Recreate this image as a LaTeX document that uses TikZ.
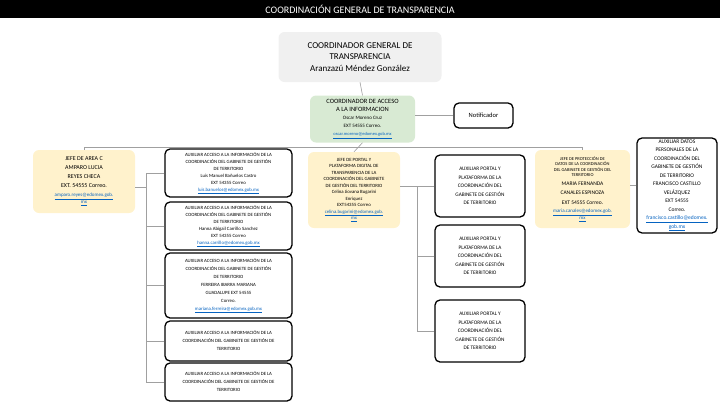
\documentclass[tikz,border=0pt]{standalone}
\usepackage{fontspec}
\setmainfont{Carlito}
\usetikzlibrary{positioning}
\definecolor{gengray}{HTML}{F0F0F0}
\definecolor{accgreen}{HTML}{D8EAD3}
\definecolor{jefebeige}{HTML}{FFF2CC}
\definecolor{linkgray}{HTML}{A0A0A0}
\definecolor{maillink}{HTML}{0563C1}
\newcommand{\mailto}[1]{\textcolor{maillink}{\underline{#1}}}

\begin{document}
\begin{tikzpicture}[x=1pt, y=-1pt,
    every node/.style={align=center, inner sep=1pt},
    filled/.style={rounded corners=6pt, fill=#1},
    outlined/.style={rounded corners=5pt, draw=black, line width=1.3pt, fill=white},
    link/.style={draw=linkgray, line width=0.6pt}]
\useasboundingbox (0,0) rectangle (720,405);
\fill[black] (0,0) rectangle (720,18);
\node[white, font=\fontsize{10}{12}\selectfont] (ttl) at (360,9) {COORDINACIÓN GENERAL DE TRANSPARENCIA};

\node[filled=gengray, minimum width=163pt, minimum height=50pt, font=\fontsize{9}{11.5}\selectfont] (gen) at (360,57)
    {COORDINADOR GENERAL DE\\TRANSPARENCIA\\Aranzazú Méndez González};
\node[filled=accgreen, minimum width=105pt, minimum height=47pt, font=\fontsize{6.5}{8}\selectfont] (acc) at (362.5,119)
    {COORDINADOR DE ACCESO\\A LA INFORMACION\\{\fontsize{5}{8}\selectfont Oscar Moreno Cruz}\\{\fontsize{5}{8}\selectfont EXT 54555 Correo.}\\{\fontsize{4.5}{8}\selectfont\mailto{oscar.moreno@edomex.gob.mx}}};
\node[outlined, minimum width=59pt, minimum height=25pt, font=\fontsize{6.5}{8}\selectfont] (notif) at (483.5,115.5) {Notificador};

\node[filled=jefebeige, minimum width=102pt, minimum height=63pt, font=\fontsize{6}{9}\selectfont] (areac) at (84,181.5)
    {JEFE DE AREA C\\AMPARO LUCIA\\REYES CHECA\\EXT. 54555 Correo.\\{\fontsize{5}{6}\selectfont\mailto{amparo.reyes@edomex.gob.}}\\[-2pt]{\fontsize{5}{6}\selectfont\mailto{mx}}};

\node[outlined, minimum width=127pt, minimum height=48pt, font=\fontsize{4.8}{7}\selectfont] (aux1) at (228.5,173)
    {AUXILIAR ACCESO A LA INFORMACIÓN DE LA\\COORDINACIÓN DEL GABINETE DE GESTIÓN\\DE TERRITORIO\\Luis Manuel Bañuelos Castro\\EXT 54355 Correo\\\mailto{luis.banuelos@edomex.gob.mx}};
\node[outlined, minimum width=127pt, minimum height=48pt, font=\fontsize{4.8}{7}\selectfont] (aux2) at (228.5,226)
    {AUXILIAR ACCESO A LA INFORMACIÓN DE LA\\COORDINACIÓN DEL GABINETE DE GESTIÓN\\DE TERRITORIO\\Hanna Abigail Carrillo Sanchez\\EXT 54355 Correo\\\mailto{hanna.carrillo@edomex.gob.mx}};
\node[outlined, minimum width=127pt, minimum height=65pt, font=\fontsize{4.8}{8}\selectfont] (aux3) at (228.5,285.5)
    {AUXILIAR ACCESO A LA INFORMACIÓN DE LA\\COORDINACIÓN DEL GABINETE DE GESTIÓN\\DE TERRITORIO\\FERREIRA IBARRA MARIANA\\GUADALUPE EXT 54555\\Correo.\\\mailto{mariana.ferreira@edomex.gob.mx}};
\node[outlined, minimum width=127pt, minimum height=40pt, font=\fontsize{4.8}{8}\selectfont] (aux4) at (228.5,341)
    {AUXILIAR ACCESO A LA INFORMACIÓN DE LA\\COORDINACIÓN DEL GABINETE DE GESTIÓN DE\\TERRITORIO};
\node[outlined, minimum width=127pt, minimum height=38pt, font=\fontsize{4.8}{8}\selectfont] (aux5) at (228.5,382)
    {AUXILIAR ACCESO A LA INFORMACIÓN DE LA\\COORDINACIÓN DEL GABINETE DE GESTIÓN DE\\TERRITORIO};

\node[filled=jefebeige, minimum width=92pt, minimum height=76pt, font=\fontsize{4.8}{6.5}\selectfont] (portal) at (354,190)
    {JEFE DE PORTAL Y\\PLATAFORMA DIGITAL DE\\TRANSPARENCIA DE LA\\COORDINACIÓN DEL GABINETE\\DE GESTIÓN DEL TERRITORIO\\Celina Jiovana Bugarini\\Enriquez\\EXT54355 Correo\\{\mailto{celina.bugarini@edomex.gob.}}\\\mailto{mx}};
\node[outlined, minimum width=90pt, minimum height=62pt, font=\fontsize{5.3}{8.5}\selectfont] (ptl1) at (480,186)
    {AUXILIAR PORTAL Y\\PLATAFORMA DE LA\\COORDINACIÓN DEL\\GABINETE DE GESTIÓN\\DE TERRITORIO};
\node[outlined, minimum width=90pt, minimum height=62pt, font=\fontsize{5.3}{8.5}\selectfont] (ptl2) at (480,256)
    {AUXILIAR PORTAL Y\\PLATAFORMA DE LA\\COORDINACIÓN DEL\\GABINETE DE GESTIÓN\\DE TERRITORIO};
\node[outlined, minimum width=90pt, minimum height=62pt, font=\fontsize{5.3}{8.5}\selectfont] (ptl3) at (480,331)
    {AUXILIAR PORTAL Y\\PLATAFORMA DE LA\\COORDINACIÓN DEL\\GABINETE DE GESTIÓN\\DE TERRITORIO};

\node[filled=jefebeige, minimum width=95pt, minimum height=78pt, font=\fontsize{4.5}{5.5}\selectfont] (datos) at (582.5,189)
    {JEFE DE PROTECCIÓN DE\\DATOS DE LA COORDINACIÓN\\DEL GABINETE DE GESTIÓN DEL\\TERRITORIO\\[3pt]
     {\fontsize{5.5}{9}\selectfont MARIA FERNANDA}\\[4pt]{\fontsize{5.5}{9}\selectfont CANALES ESPINOZA}\\[4pt]{\fontsize{5.5}{9}\selectfont EXT 54555 Correo.}\\[3pt]
     {\fontsize{5}{7}\selectfont\mailto{maria.canales@edomex.gob.}}\\[1pt]{\fontsize{5}{7}\selectfont\mailto{mx}}};
\node[outlined, minimum width=80pt, minimum height=95pt, font=\fontsize{5.5}{8.5}\selectfont] (auxdp) at (677,185.5)
    {AUXILIAR DATOS\\PERSONALES DE LA\\COORDINACIÓN DEL\\GABINETE DE GESTIÓN\\DE TERRITORIO\\FRANCISCO CASTILLO\\VELÁZQUEZ\\EXT 54555\\Correo.\\\mailto{francisco.castillo@edomex.}\\\mailto{gob.mx}};

% lines
\draw[link] (gen.south) -- (acc.north);
\draw[link] (acc.east |- notif.west) -- (notif.west);
\draw[link] (acc.south) -- (portal.north);
\draw[link] (areac.north) -- ++(0,-3) -| (datos.north);
\draw[link] ([yshift=-5.5pt]areac.east) -- ++(12,0);
\draw[link] (aux1.west) -- ++(-18,0) |- (aux5.west);
\draw[link] (aux2.west) -- ++(-18,0);
\draw[link] (aux3.west) -- ++(-18,0);
\draw[link] (aux4.west) -- ++(-18,0);
\draw[link] (portal.east |- ptl1.west) -- (ptl1.west);
\draw[link] (ptl1.west) ++(-17,0) |- (ptl3.west);
\draw[link] (ptl2.west) -- ++(-17,0);
\draw[link] (datos.east |- auxdp.west) -- (auxdp.west);
\end{tikzpicture}
\end{document}
